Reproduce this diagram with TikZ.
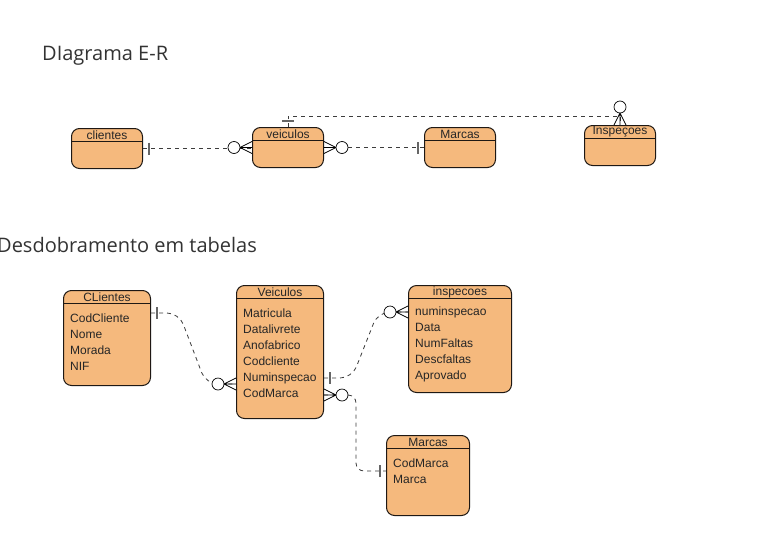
\documentclass[tikz,border=0pt]{standalone}
\usepackage{fontspec}
\setmainfont{Liberation Sans}
\newfontfamily\headingfont{Open Sans}
\definecolor{entfill}{RGB}{245,185,125}
\definecolor{entline}{RGB}{30,24,20}
\definecolor{relline}{RGB}{60,60,60}
\usetikzlibrary{calc, positioning}

\begin{document}
\begin{tikzpicture}[x=1pt, y=-1pt,
    ent/.style={draw=entline, fill=entfill, line width=1pt, rounded corners=8pt,
      anchor=north west, inner sep=0pt,
      path picture={\draw[entline, line width=1pt]
        ([yshift=-13pt]path picture bounding box.north west) --
        ([yshift=-13pt]path picture bounding box.north east);}},
    hdr/.style={font=\fontsize{12}{14}\selectfont, text=black!85, inner sep=0pt},
    attrs/.style={font=\fontsize{12}{16}\selectfont, text=black!85, align=left,
      inner sep=0pt, anchor=north west},
    rel/.style={draw=relline, dash pattern=on 4pt off 4pt, line width=0.8pt},
    heading/.style={font=\headingfont\fontsize{20}{24}\selectfont, text=black!80,
      anchor=base west, inner sep=0pt},
    onebar/.pic={\draw[line width=1.3pt, gray!80!black] (6,-6) -- (6,6);},
    zeromany/.pic={\draw[line width=0.7pt] (0,-6) -- (12,0) -- (0,6) (0,0) -- (12,0);
      \draw[line width=0.7pt, fill=white] (18,0) circle (6pt);},
  ]
  \useasboundingbox (0,0) rectangle (767,557);
  \fill[white] (0,0) rectangle (767,557);

  % E-R diagram
  \node[heading] (h1) at (42,60) {DIagrama E-R};
  \node[ent, minimum width=71pt, minimum height=40pt] (cli) at (71,128) {};
  \node[hdr] at ([yshift=-7pt]cli.north) {clientes};
  \node[ent, minimum width=71pt, minimum height=40pt] (vei) at (252,127) {};
  \node[hdr] at ([yshift=-7pt]vei.north) {veiculos};
  \node[ent, minimum width=71pt, minimum height=40pt] (mar) at (424,127) {};
  \node[hdr] at ([yshift=-7pt]mar.north) {Marcas};
  \node[ent, minimum width=71pt, minimum height=40pt] (ins) at (584,125) {};
  \node[hdr] at ([yshift=-7pt]ins.north) {Inspeçoes};

  \draw[rel] (cli.east) -- (cli.east -| vei.west);
  \pic at (cli.east) {onebar};
  \pic[rotate=180] at (vei.west) {zeromany};
  \draw[rel] (vei.east) -- (mar.west);
  \pic at (vei.east) {zeromany};
  \pic[rotate=180] at (mar.west) {onebar};
  \draw[rel] (vei.north) -- ++(0,-11) -| (ins.north);
  \pic[rotate=90] at (vei.north) {onebar};
  \pic[rotate=90] at (ins.north) {zeromany};

  % tables
  \node[heading] (h2) at (-3,252) {Desdobramento em tabelas};
  \node[ent, minimum width=87pt, minimum height=95pt] (tcli) at (63,290) {};
  \node[hdr] at ([yshift=-7pt]tcli.north) {CLientes};
  \node[attrs] (acli) at ([xshift=7pt, yshift=-24pt]tcli.north west)
    {CodCliente\\Nome\\Morada\\NIF};
  \node[ent, minimum width=87pt, minimum height=133pt] (tvei) at (236,285) {};
  \node[hdr] at ([yshift=-7pt]tvei.north) {Veiculos};
  \node[attrs] (avei) at ([xshift=7pt, yshift=-24pt]tvei.north west)
    {Matricula\\Datalivrete\\Anofabrico\\Codcliente\\Numinspecao\\CodMarca};
  \node[ent, minimum width=103pt, minimum height=107pt] (tins) at (408,285) {};
  \node[hdr] at ([yshift=-7pt]tins.north) {inspecoes};
  \node[attrs] (ains) at ([xshift=7pt, yshift=-22pt]tins.north west)
    {numinspecao\\Data\\NumFaltas\\Descfaltas\\Aprovado};
  \node[ent, minimum width=83pt, minimum height=80pt] (tmar) at (386,435) {};
  \node[hdr] at ([yshift=-7pt]tmar.north) {Marcas};
  \node[attrs] (amar) at ([xshift=7pt, yshift=-24pt]tmar.north west)
    {CodMarca\\Marca};

  \coordinate (c1) at ([yshift=-23pt]tcli.north east);
  \coordinate (v1) at ([yshift=-99pt]tvei.north west);
  \coordinate (v2) at ([yshift=-93pt]tvei.north east);
  \coordinate (v3) at ([yshift=-110pt]tvei.north east);
  \coordinate (i1) at ([yshift=-27pt]tins.north west);
  \coordinate (m1) at ([yshift=-36pt]tmar.north west);

  \draw[rel, rounded corners=12pt] (c1) -- ++(28,0) -- ($(v1)+(-30,0)$) -- (v1);
  \pic at (c1) {onebar};
  \pic[rotate=180] at (v1) {zeromany};
  \draw[rel, rounded corners=12pt] (v2) -- ++(28,0) -- ($(i1)+(-30,0)$) -- (i1);
  \pic at (v2) {onebar};
  \pic[rotate=180] at (i1) {zeromany};
  \draw[rel, rounded corners=8pt] (v3) -| ($(m1)+(-30,0)$) -- (m1);
  \pic at (v3) {zeromany};
  \pic[rotate=180] at (m1) {onebar};
\end{tikzpicture}
\end{document}
